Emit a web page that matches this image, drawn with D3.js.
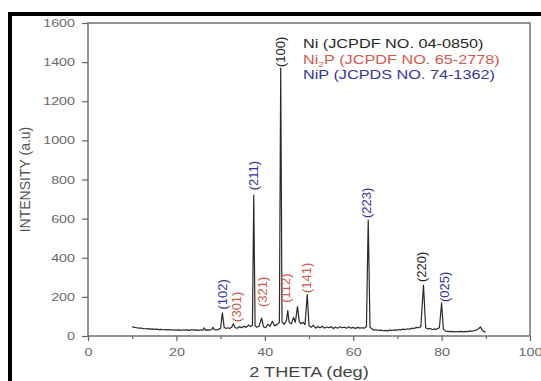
<!DOCTYPE html>
<html>
<head>
<meta charset="utf-8">
<script src="https://cdn.jsdelivr.net/npm/d3@7"></script>
<style>
  html, body { margin: 0; padding: 0; background: #fff; }
  svg { display: block; font-family: 'Liberation Sans', Arial, sans-serif; }
</style>
</head>
<body>
<div id="chart"></div>
<script>
// XRD pattern
const twoTheta = [10, 10.5, 11, 11.5, 12, 12.5, 13, 13.5, 14, 14.5, 15, 15.5, 16, 16.5, 17, 17.5, 18, 18.5, 19, 19.5,
  20, 20.5, 21, 21.5, 22, 22.5, 23, 23.5, 24, 24.5, 25, 25.5, 26, 26.3, 26.6, 27, 27.5, 28, 28.3, 28.6, 29, 29.5,
  30, 30.4, 30.8, 31.2, 31.6, 32, 32.5, 32.9, 33.3, 33.8, 34.3, 34.8, 35.3, 35.8, 36.3, 36.8, 37.2, 37.5, 37.8,
  38.2, 38.7, 39.3, 39.7, 40.2, 40.7, 41.2, 41.7, 42.2, 42.8, 43.3, 43.6, 43.9, 44.4, 44.9, 45.2, 45.5, 46, 46.5,
  46.9, 47.4, 47.8, 48.2, 48.7, 49.1, 49.6, 50, 50.5, 51, 51.5, 52, 52.5, 53, 53.5, 54, 54.5, 55, 55.5, 56, 56.5,
  57, 57.5, 58, 58.5, 59, 59.5, 60, 60.5, 61, 61.5, 62, 62.5, 63, 63.4, 63.8, 64.3, 64.8, 65.3, 65.8, 66.3, 66.8,
  67.3, 67.8, 68.3, 68.8, 69.3, 69.8, 70.3, 70.8, 71.3, 71.8, 72.3, 72.8, 73.3, 73.8, 74.3, 74.8, 75.3, 75.9, 76.4,
  76.9, 77.4, 77.9, 78.4, 78.9, 79.5, 80, 80.4, 80.9, 81.4, 81.9, 82.4, 82.9, 83.4, 83.9, 84.4, 84.9, 85.4, 85.9,
  86.4, 86.9, 87.4, 87.9, 88.4, 88.8, 89.2, 89.6, 90];
const intensity = [48, 44, 42, 40, 41, 38, 37, 38, 35, 36, 34, 35, 33, 34, 32, 33, 31, 33, 30, 32,
  30, 31, 29, 32, 30, 31, 29, 33, 30, 31, 29, 32, 30, 42, 30, 31, 30, 33, 44, 32, 31, 34,
  40, 118, 45, 38, 42, 38, 45, 62, 42, 40, 48, 42, 50, 44, 56, 48, 55, 720, 52,
  45, 50, 92, 48, 42, 60, 50, 75, 52, 58, 70, 1370, 72, 60, 80, 130, 70, 62, 95,
  70, 150, 75, 62, 70, 58, 212, 52, 45, 55, 40, 48, 42, 50, 40, 46, 42, 48, 38, 45, 40,
  47, 42, 45, 40, 47, 40, 44, 38, 44, 40, 42, 40, 48, 593, 45, 35, 30, 32, 28, 30, 27,
  29, 26, 30, 28, 31, 29, 33, 31, 35, 33, 37, 35, 40, 38, 44, 42, 48, 260, 42,
  36, 38, 33, 36, 34, 42, 169, 35, 25, 24, 22, 24, 21, 23, 22, 24, 21, 24, 22,
  26, 24, 28, 30, 38, 46, 30, 22, 20];

// reflection labels: text, 2theta, intensity at label foot, phase
const peakLabels = ['(102)', '(301)', '(211)', '(321)', '(100)', '(112)', '(141)', '(223)', '(220)', '(025)'];
const peakTheta = [30.4, 33.5, 37.4, 39.4, 43.6, 44.6, 49.3, 63.0, 75.5, 80.7];
const peakFoot = [135, 72, 745, 148, 1375, 170, 220, 603, 276, 174];
const peakPhase = ['NiP', 'Ni2P', 'NiP', 'Ni2P', 'Ni', 'Ni2P', 'Ni2P', 'NiP', 'Ni', 'NiP'];

const legendPhases = ['Ni', 'Ni2P', 'NiP'];
const legendRefs = [' (JCPDF NO. 04-0850)', ' (JCPDF NO. 65-2778)', ' (JCPDS NO. 74-1362)'];

const xTicks = [0, 20, 40, 60, 80, 100];
const xMinor = [10, 30, 50, 70, 90];
const yTicks = [0, 200, 400, 600, 800, 1000, 1200, 1400, 1600];

const phaseColor = {Ni: '#262626', Ni2P: '#cf5a4e', NiP: '#34349e'};
const stretch = 1.3;

const W = 541, H = 381;
const margin = {top: 23, right: 11, bottom: 45, left: 88};
const width = W - margin.left - margin.right;
const height = H - margin.top - margin.bottom;

const svg = d3.select('#chart').append('svg')
  .attr('width', W)
  .attr('height', H);

// black frame, top and left edge
svg.append('path')
  .attr('d', 'M10,' + H + 'V14H' + W)
  .attr('fill', 'none')
  .attr('stroke', '#000')
  .attr('stroke-width', 4);

const g = svg.append('g')
  .attr('transform', 'translate(' + margin.left + ',' + margin.top + ')');

const x = d3.scaleLinear().domain([0, 100]).range([0, width]);
const y = d3.scaleLinear().domain([0, 1600]).range([height, 0]);

// axes
const yAxis = g.append('g')
  .call(d3.axisLeft(y).tickValues(yTicks).tickFormat(d3.format('d')).tickSize(6).tickPadding(4));
yAxis.selectAll('text')
  .attr('transform', 'scale(' + stretch + ',1)')
  .style('font-size', '11px')
  .attr('fill', '#6a6a6a');

const xAxis = g.append('g')
  .attr('transform', 'translate(0,' + height + ')')
  .call(d3.axisBottom(x).tickValues(xTicks).tickFormat(d3.format('d')).tickSize(5).tickPadding(7));
xAxis.selectAll('text')
  .attr('transform', 'scale(' + stretch + ',1)')
  .style('font-size', '11px')
  .attr('fill', '#6a6a6a');

g.append('g')
  .attr('transform', 'translate(0,' + height + ')')
  .call(d3.axisBottom(x).tickValues(xMinor).tickSize(3).tickFormat(''));

g.selectAll('.domain').remove();
g.selectAll('.tick line').attr('stroke', '#666').attr('stroke-width', 1.2);

g.append('rect')
  .attr('width', width)
  .attr('height', height)
  .attr('fill', 'none')
  .attr('stroke', '#666')
  .attr('stroke-width', 1.4);

// pattern
const pts = twoTheta.map((t, i) => [t, intensity[i]]);
const drawLine = d3.line()
  .x(d => x(d[0]))
  .y(d => y(d[1]));

g.append('path')
  .datum(pts)
  .attr('d', drawLine)
  .attr('fill', 'none')
  .attr('stroke', '#2a2a2a')
  .attr('stroke-width', 1.2)
  .attr('stroke-linejoin', 'round');

// peak labels, rotated
g.selectAll('.peak')
  .data(peakLabels)
  .enter().append('text')
  .attr('class', 'peak')
  .attr('transform', (d, i) => 'translate(' + x(peakTheta[i]) + ',' + y(peakFoot[i]) + ') rotate(-90)')
  .attr('dy', '0.36em')
  .style('font-size', '13px')
  .attr('fill', (d, i) => phaseColor[peakPhase[i]])
  .text(d => d);

// legend
const legend = g.append('g')
  .attr('transform', 'translate(' + (303 - margin.left) + ',' + (48 - margin.top) + ')');

legendPhases.forEach((p, i) => {
  const t = legend.append('text')
    .attr('transform', 'translate(0,' + (i * 15.5) + ') scale(' + stretch + ',1)')
    .style('font-size', '12.5px')
    .attr('fill', phaseColor[p]);
  if (p === 'Ni2P') {
    t.append('tspan').text('Ni');
    t.append('tspan').attr('dy', 3).style('font-size', '8px').text('2');
    t.append('tspan').attr('dy', -3).text('P' + legendRefs[i]);
  } else {
    t.text(p + legendRefs[i]);
  }
});

// axis titles
svg.append('text')
  .attr('transform', 'translate(' + (margin.left + width / 2) + ',377) scale(' + stretch + ',1)')
  .attr('text-anchor', 'middle')
  .style('font-size', '14px')
  .attr('fill', '#444')
  .text('2 THETA (deg)');

svg.append('text')
  .attr('transform', 'translate(30,' + (margin.top + height / 2) + ') rotate(-90)')
  .attr('text-anchor', 'middle')
  .style('font-size', '14px')
  .attr('fill', '#555')
  .text('INTENSITY (a.u)');
</script>
</body>
</html>
